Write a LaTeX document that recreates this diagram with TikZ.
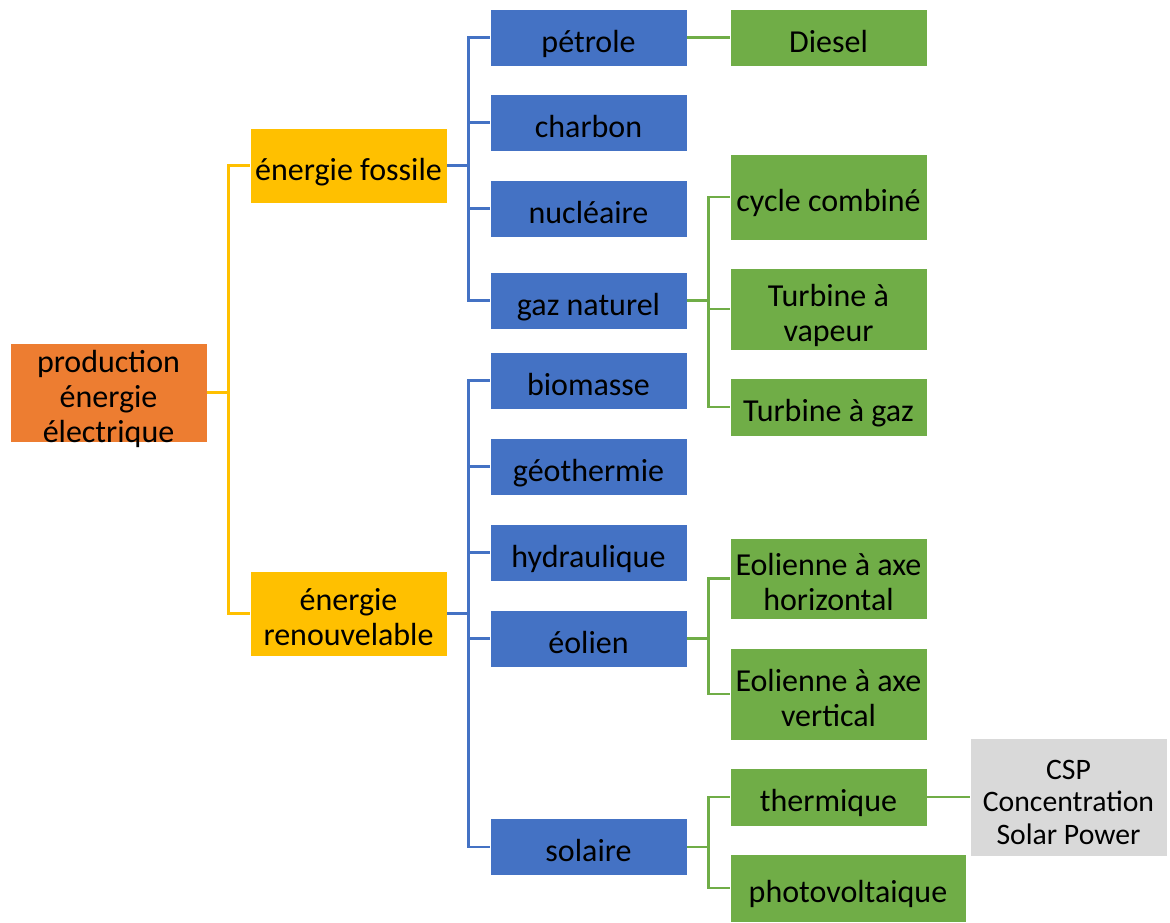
\documentclass[tikz,border=0pt]{standalone}
\usepackage{fontspec}
\setmainfont{Carlito}
\definecolor{prodcol}{HTML}{ED7D31}
\definecolor{famcol}{HTML}{FFC000}
\definecolor{srccol}{HTML}{4472C4}
\definecolor{techcol}{HTML}{70AD47}
\definecolor{notecol}{HTML}{D9D9D9}
\newcommand{\haut}{\rule{0pt}{38pt}}
\newcommand{\bas}{\rule[-9pt]{0pt}{9pt}}
\tikzset{
  box/.style={rectangle, draw=white, line width=0.8pt, minimum width=197pt,
    minimum height=57pt, inner xsep=1pt, inner ysep=-1pt, align=center,
    font=\fontsize{32}{35}\selectfont},
  prodbox/.style={box, fill=prodcol, inner ysep=-9pt},
  fambox/.style={box, fill=famcol},
  srcbox/.style={box, fill=srccol},
  techbox/.style={box, fill=techcol},
  notebox/.style={box, fill=notecol, font=\fontsize{29.7}{32.5}\selectfont},
  famline/.style={draw=famcol, line width=2.5pt},
  srcline/.style={draw=srccol, line width=2.5pt},
  techline/.style={draw=techcol, line width=2.5pt}
}
\begin{document}
\begin{tikzpicture}[x=1pt,y=-1pt]
    \useasboundingbox (0,0) rectangle (1170,922);

    % racine
    \node[prodbox, minimum height=99pt] (prod) at (108.5,392.5) {\haut production\\énergie\\électrique\bas};

    % familles
    \node[fambox, minimum height=75pt] (fossile) at (348.5,165.5) {\haut énergie fossile\bas};
    \node[fambox, minimum height=85pt] (renouv) at (348.5,613.5) {\haut énergie\\renouvelable\bas};

    % sources
    \node[srcbox] (petrole) at (588.5,37.5) {\haut pétrole\bas};
    \node[srcbox] (charbon) at (588.5,122.5) {\haut charbon\bas};
    \node[srcbox] (nucleaire) at (588.5,208.5) {\haut nucléaire\bas};
    \node[srcbox] (gaz) at (588.5,300.5) {\haut gaz naturel\bas};
    \node[srcbox] (biomasse) at (588.5,380.5) {\haut biomasse\bas};
    \node[srcbox] (geo) at (588.5,466.5) {\haut géothermie\bas};
    \node[srcbox] (hydrau) at (588.5,552.5) {\haut hydraulique\bas};
    \node[srcbox] (eolien) at (588.5,638.5) {\haut éolien\bas};
    \node[srcbox] (solaire) at (588.5,847) {\haut solaire\bas};

    % technologies
    \node[techbox] (diesel) at (828.5,37.5) {\haut Diesel\bas};
    \node[techbox, minimum height=86pt] (cycle) at (828.5,197) {\haut cycle combiné\bas};
    \node[techbox, minimum height=82pt] (vapeur) at (828.5,309) {\haut Turbine à\\vapeur\bas};
    \node[techbox, minimum height=58pt] (tgaz) at (828.5,407) {\haut Turbine à gaz\bas};
    \node[techbox, minimum height=81pt] (eolh) at (828.5,578.5) {\haut Eolienne à axe\\horizontal\bas};
    \node[techbox, minimum height=92pt] (eolv) at (828.5,694) {\haut Eolienne à axe\\vertical\bas};
    \node[techbox, minimum height=58pt] (thermique) at (828.5,797) {\haut thermique\bas};
    \node[techbox, minimum width=236pt, minimum height=68pt] (photo) at (848,888) {\haut photovoltaique\bas};

    \node[notebox, minimum height=118pt] (csp) at (1068.5,797) {\haut CSP\\Concentration\\Solar Power\bas};

    % liaisons
    \foreach \c in {fossile,renouv}
        \draw[famline] (prod.east) -- ++(21,0) |- (\c.west);
    \foreach \c in {petrole,charbon,nucleaire,gaz}
        \draw[srcline] (fossile.east) -- ++(21,0) |- (\c.west);
    \foreach \c in {biomasse,geo,hydrau,eolien,solaire}
        \draw[srcline] (renouv.east) -- ++(21,0) |- (\c.west);
    \draw[techline] (petrole.east) -- (diesel.west);
    \foreach \c in {cycle,vapeur,tgaz}
        \draw[techline] (gaz.east) -- ++(21,0) |- (\c.west);
    \foreach \c in {eolh,eolv}
        \draw[techline] (eolien.east) -- ++(21,0) |- (\c.west);
    \foreach \c in {thermique,photo}
        \draw[techline] (solaire.east) -- ++(21,0) |- (\c.west);
    \draw[techline] (thermique.east) -- (csp.west);

\end{tikzpicture}
\end{document}
